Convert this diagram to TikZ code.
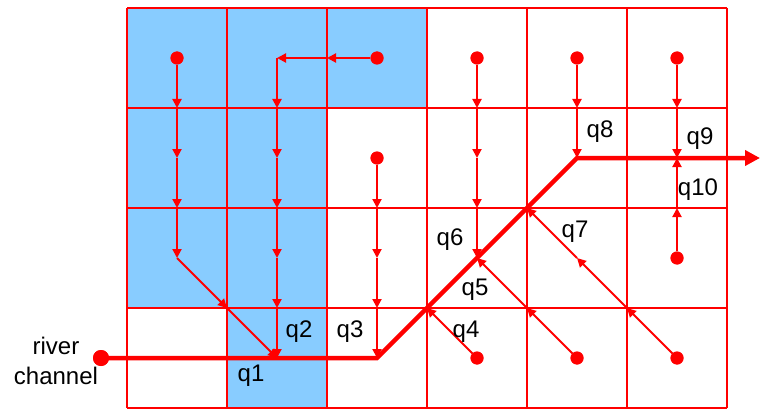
\documentclass[tikz,border=0pt]{standalone}
\usepackage{fontspec}
\setmainfont{Liberation Sans}
\usetikzlibrary{arrows.meta}
\definecolor{cellblue}{RGB}{136,204,255}
\definecolor{gridred}{RGB}{255,0,0}
\begin{document}
\begin{tikzpicture}[x=1pt,y=-1pt,
  gridline/.style={draw=gridred,line width=1.2pt},
  flow/.style={draw=red,line width=2pt,-{Triangle[length=9pt,width=9pt]}},
  mainflow/.style={draw=red,line width=4.5pt,line join=miter,-{Triangle[length=15pt,width=15pt]}},
  src/.style={circle,fill=red,inner sep=0pt,minimum size=13pt},
  bigsrc/.style={circle,fill=red,inner sep=0pt,minimum size=16pt},
  lbl/.style={inner sep=0pt,anchor=base,font=\fontsize{24}{30}\selectfont}]
\useasboundingbox (0,0) rectangle (760,409);
% lattice of half-cell points
\foreach \i in {0,...,12}{\foreach \j in {0,...,8}{\coordinate (a\i-\j) at ({127+50*\i},{8+50*\j});}}
% blue cells
\fill[cellblue] (a0-0) rectangle (a2-6);
\fill[cellblue] (a2-0) rectangle (a4-8);
\fill[cellblue] (a4-0) rectangle (a6-2);
% grid
\foreach \i in {0,2,...,12}{\draw[gridline] (a\i-0) -- (a\i-8);}
\foreach \j in {0,2,...,8}{\draw[gridline] (a0-\j) -- (a12-\j);}
% sources
\node[src] (s1) at (a1-1) {};
\node[src] (s2) at (a5-1) {};
\node[src] (s3) at (a5-3) {};
\node[src] (s4) at (a7-1) {};
\node[src] (s5) at (a9-1) {};
\node[src] (s6) at (a11-1) {};
\node[src] (s7) at (a11-5) {};
\node[src] (s8) at (a7-7) {};
\node[src] (s9) at (a9-7) {};
\node[src] (s10) at (a11-7) {};
\node[bigsrc] (river) at (101,358) {};
\coordinate (outlet) at (760,158);
% main channel
\draw[mainflow] (river.center) -- (a5-7) -- (a6-6) -- (a7-5) -- (a8-4) -- (a9-3) -- (outlet);
% flows
\foreach \s/\e in {s1/a1-2, a1-2/a1-3, a1-3/a1-4, a1-4/a1-5, a1-5/a2-6, a2-6/a3-7,
  s2/a4-1, a4-1/a3-1, a3-1/a3-2, a3-2/a3-3, a3-3/a3-4, a3-4/a3-5, a3-5/a3-6, a3-6/a3-7,
  s3/a5-4, a5-4/a5-5, a5-5/a5-6, a5-6/a5-7,
  s4/a7-2, a7-2/a7-3, a7-3/a7-4, a7-4/a7-5,
  s5/a9-2, a9-2/a9-3,
  s6/a11-2, a11-2/a11-3,
  s7/a11-4, a11-4/a11-3,
  s8/a6-6,
  s9/a8-6, a8-6/a7-5,
  s10/a10-6, a10-6/a9-5, a9-5/a8-4}
  {\draw[flow] (\s) -- (\e);}
% redraw sources on top
\foreach \n in {s1,s2,s3,s4,s5,s6,s7,s8,s9,s10}{\fill[red] (\n.center) circle (6.5pt);}
\fill[red] (river.center) circle (8pt);
% labels
\node[lbl] (q1) at (251,381) {q1};
\node[lbl] (q2) at (299,337) {q2};
\node[lbl] (q3) at (350,337) {q3};
\node[lbl] (q4) at (466,337) {q4};
\node[lbl] (q5) at (475,295) {q5};
\node[lbl] (q6) at (450,245) {q6};
\node[lbl] (q7) at (575,237) {q7};
\node[lbl] (q8) at (600,138) {q8};
\node[lbl] (q9) at (700,145) {q9};
\node[lbl] (q10) at (698,195) {q10};
\node[inner sep=0pt,align=center,font=\fontsize{24}{30}\selectfont] (rc) at (56,361) {river\\channel};
\end{tikzpicture}
\end{document}
